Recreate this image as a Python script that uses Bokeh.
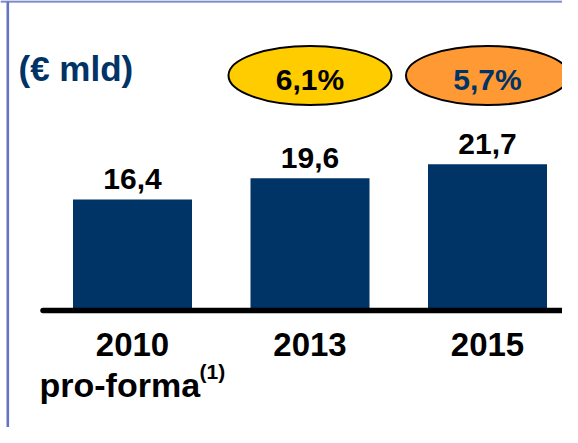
from bokeh.plotting import figure
from bokeh.models import Range1d, ColumnDataSource, Label
from bokeh.core.properties import value
from bokeh.embed import file_html
from bokeh.resources import INLINE

# ---- data ----
years = ["2010", "2013", "2015"]
revenues = [16.4, 19.6, 21.7]
revenue_labels = ["16,4", "19,6", "21,7"]
cagr_labels = ["6,1%", "5,7%"]
cagr_over = ["2013", "2015"]
unit_label = "(€ mld)"
footnote_word = "pro-forma"
footnote_mark = "(1)"

# ---- styles ----
NAVY = "#003366"
BAND = "#5262B2"
BAND_LIGHT = "#8A98D6"
BORDER = "#6474C4"
CAGR_FILL = ["#FFCC00", "#FF9933"]
CAGR_TEXT = ["#000000", "#003366"]
FONT = value("Liberation Sans")

W, H = 562, 427
SX = 177.5          # px per category step
SY = 6.65           # px per unit of value
X0 = -132.0 / SX    # data x at canvas left edge


def dx(px):
    return X0 + px / SX


def dy(py):
    return (308.0 - py) / SY


p = figure(width=W, height=H, output_backend="svg", toolbar_location=None,
           x_range=Range1d(dx(0), dx(W)), y_range=Range1d(dy(H), dy(0)),
           min_border=0, outline_line_color=None)
p.axis.visible = False
p.grid.visible = False
p.background_fill_color = "white"
p.border_fill_color = "white"

xs = list(range(len(years)))

# frame decorations
p.quad(left=dx(0), right=dx(W), top=dy(0), bottom=dy(1.2), color=BAND, line_width=0)
p.quad(left=dx(0), right=dx(W), top=dy(1.2), bottom=dy(2.2), color=BAND_LIGHT, line_width=0)
p.segment(x0=dx(7.3), y0=dy(1), x1=dx(7.3), y1=dy(H), line_color=BORDER, line_width=2.6)

# bars
src = ColumnDataSource(dict(x=xs, top=revenues, lab=revenue_labels))
p.vbar(x="x", top="top", bottom=0, width=119 / SX, source=src,
       fill_color=NAVY, line_color=None)

# baseline
p.segment(x0=dx(42.5), y0=dy(310), x1=dx(W + 5), y1=dy(310),
          line_color="black", line_width=5.5, line_cap="round")

# value labels
p.text(x="x", y="top", text="lab", source=src, text_align="center",
       text_baseline="middle", y_offset=-20.5, text_font=FONT,
       text_font_style="bold", text_font_size="30px", text_color="black")

# category labels
p.text(x=xs, y=[0] * len(xs), text=years, text_align="center",
       text_baseline="middle", y_offset=36, text_font=FONT,
       text_font_style="bold", text_font_size="33px", text_color="black")

p.add_layout(Label(x=dx(39), y=dy(384.5), text=footnote_word, text_align="left",
                   text_baseline="middle", text_font="Liberation Sans",
                   text_font_style="bold", text_font_size="34px",
                   text_color="black"))
p.add_layout(Label(x=dx(199), y=dy(371), text=footnote_mark, text_align="left",
                   text_baseline="middle", text_font="Liberation Sans",
                   text_font_style="bold", text_font_size="21px",
                   text_color="black"))

# unit label
p.add_layout(Label(x=dx(18), y=dy(67.5), text=unit_label, text_align="left",
                   text_baseline="middle", text_font="Liberation Sans",
                   text_font_style="bold", text_font_size="35px",
                   text_color=NAVY))

# CAGR ellipses
cx = [years.index(c) for c in cagr_over]
cy = [dy(75)] * len(cx)
p.ellipse(x=cx, y=cy, width=163, height=59, width_units="screen",
          height_units="screen", fill_color=CAGR_FILL, line_color="black",
          line_width=2)
p.text(x=cx, y=cy, text=cagr_labels, text_align="center",
       text_baseline="middle", y_offset=3.5, text_font=FONT,
       text_font_style="bold", text_font_size="30px", text_color=CAGR_TEXT)

open("out.html", "w").write(file_html(p, INLINE))
